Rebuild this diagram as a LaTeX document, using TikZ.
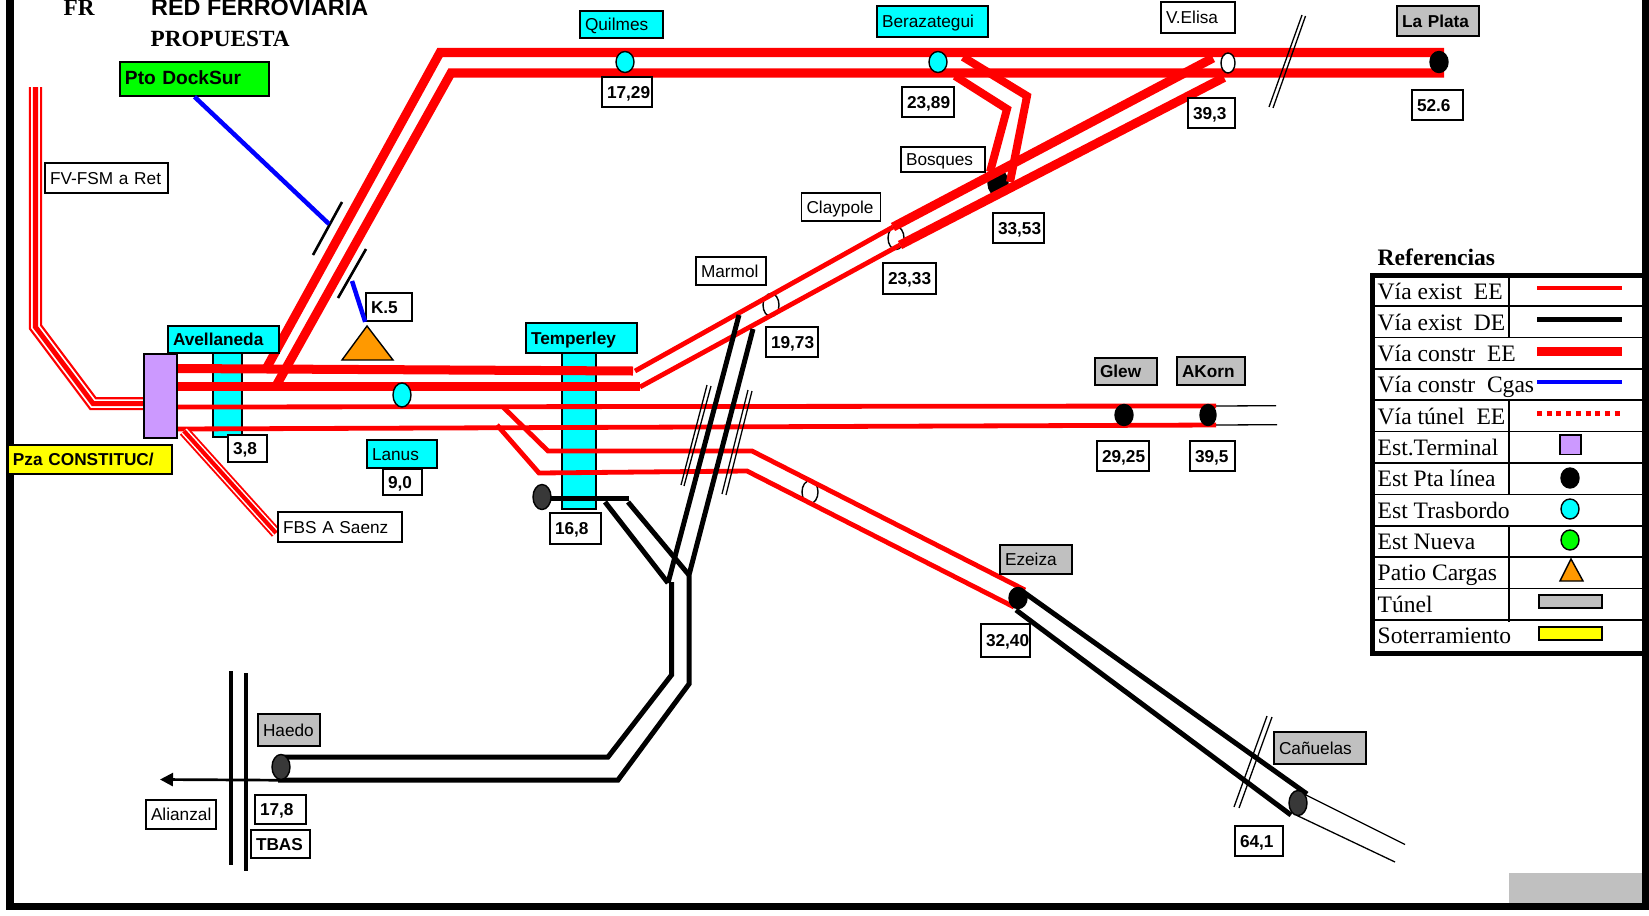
\documentclass[tikz,border=0pt]{standalone}
\usepackage{fontspec}
\setmainfont{Liberation Sans}
\newfontfamily\legfont{Liberation Serif}
\usetikzlibrary{arrows.meta,shapes.geometric}
\definecolor{estcian}{RGB}{0,255,255}
\definecolor{estverde}{RGB}{0,255,0}
\definecolor{estamar}{RGB}{255,255,0}
\definecolor{estlila}{RGB}{204,153,255}
\definecolor{estnar}{RGB}{255,153,0}
\definecolor{estgris}{RGB}{192,192,192}
\tikzset{
  lbl/.style={draw=black,line width=0.016cm,fill=white,inner xsep=0.05cm,inner ysep=0pt,align=left,
    text height=0.155cm,text depth=0.03cm,font=\fontsize{4.9}{5.5}\selectfont},
  km/.style={lbl,font=\fontsize{4.9}{5.5}\selectfont\bfseries},
  wh/.code 2 args={\pgfmathsetmacro\boxtw{(#1-10)*0.01}\tikzset{text width=\boxtw cm,minimum height=#2*0.01cm}},
  viaconstr/.style={draw=red,line width=0.09cm},
  viaexist/.style={draw=red,line width=0.048cm},
  viade/.style={draw=black,line width=0.05cm},
  viafina/.style={draw=black,line width=0.013cm},
  corte/.style={draw=black,line width=0.013cm},
  cgas/.style={draw=blue,line width=0.045cm},
  est/.style={ellipse,draw=black,line width=0.014cm,inner sep=0pt,minimum width=0.18cm,minimum height=0.21cm},
  estpta/.style={est,fill=black},
  estosc/.style={est,fill=black!78,minimum height=0.25cm},
  estblanca/.style={est,fill=white,minimum width=0.16cm,minimum height=0.23cm},
  esttras/.style={est,fill=estcian},
  leg/.style={anchor=base west,inner sep=0pt,font=\legfont\fontsize{6.7}{7}\selectfont},
  legline/.style={draw=black,line width=0.017cm},
}
\newcommand{\ramal}[2]{
  \draw[draw=red,line width=#1*0.13cm] #2;
  \draw[draw=white,line width=#1*0.085cm] #2;
  \draw[draw=red,line width=#1*0.05cm] #2;
}
\begin{document}
\begin{tikzpicture}[x=0.01cm,y=-0.01cm]
  \useasboundingbox (0,0) rectangle (1649,915);
  \fill[estgris] (1509,873) rectangle (1642,903);
  \fill (6,-1) rectangle (13.5,903);
  \fill (1642,-1) rectangle (1650,910);
  \fill (6,902.5) rectangle (1650,910);
  \node[anchor=base west,inner sep=0pt,font=\legfont\fontsize{6.6}{7}\selectfont\bfseries] (fr) at (63,15) {FR};
  \node[anchor=base west,inner sep=0pt,font=\fontsize{6.65}{7}\selectfont\bfseries] (red) at (150.5,15) {RED FERROVIARIA};
  \node[anchor=base west,inner sep=0pt,font=\legfont\fontsize{6.6}{7}\selectfont\bfseries] (prop) at (150,47) {PROPUESTA};

  \foreach \n/\x/\y in {ta/266/369,tb/276/386,tc/440/52.5,td/451/73,te/1444/52.5,tf/1444/73,
    aa/177/368.5,ab/633/371,ac/177/386,ad/640/386,ae/177/407,af/1216/406,ag/177/429,ah/1216/425,
    ai/1276/405.7,aj/1277/424.7,
    ca/635/371,cb/893/227,cc/640/387,cd/900/245,ce/1213/58,cf/1224/77.5,
    ba/963/57,bb/1027/96,bc/1010/182,bd/955/76,be/1007/109,bf/990/172,
    ea/503/407,eb/548/451,ec/752/451,ed/1025/590,ee/497/425,ef/539/473,eg/747/471,eh/1014/607,
    na/1022/591,nb/1307/794,nc/1016/610,nd/1291/815,ne/1304/794,nf/1405/844.5,ng/1296/815,nh/1395/862,
    ma/739/315,mb/668/583,mb2/671.5/582,mc/671.5/675,md/608/757,me/278/757,
    mf/753/329,mg/689/575,mh/689/684,mi/618/780,mj/278/780,
    ta1/550/498.5,ta2/629/498.5,ta3/605/502,ta4/628/502,
    dk/329/224,kb/352/281,arrowend/160/779.5}
    \coordinate (\n) at (\x,\y);

  \fill[estcian,draw=black,line width=0.014cm] (213,353) rectangle (242,437);
  \fill[estcian,draw=black,line width=0.014cm] (562,353) rectangle (596,509);
  \node[estpta,minimum width=0.2cm,minimum height=0.26cm] (bosques) at (998,183) {};
  \node[estblanca] (claypole) at (896,238) {};
  \node[estblanca] (marmol) at (771,305) {};
  \node[estblanca] (ezemid) at (810,492) {};

  \draw[viaconstr] (ta) -- (tc) -- (te);
  \draw[viaconstr] (tb) -- (td) -- (tf);
  \draw[viaconstr] (aa) -- (ab);
  \draw[viaconstr] (ac) -- (ad);
  \draw[viaexist] (ae) -- (af);
  \draw[viaexist] (ag) -- (ah);
  \draw[viafina] (af) -- (ai);
  \draw[viafina] (ah) -- (aj);
  \draw[viaexist] (ca) -- (cb);
  \draw[viaexist] (cc) -- (cd);
  \draw[viaconstr] (cb) -- (ce);
  \draw[viaconstr] (cd) -- (cf);
  \draw[viaconstr,line width=0.08cm] (ba) -- (bb) -- (bc);
  \draw[viaconstr,line width=0.08cm] (bd) -- (be) -- (bf);
  \draw[viaexist] (ea) -- (eb) -- (ec) -- (ed);
  \draw[viaexist] (ee) -- (ef) -- (eg) -- (eh);
  \ramal{1}{(35.5,87) -- (35.5,327) -- (93,403.5) -- (144,403.5)}
  \ramal{0.85}{(184,431) -- (276,533)}

  \draw[viade] (na) -- (nb);
  \draw[viade] (nc) -- (nd);
  \draw[viafina] (ne) -- (nf);
  \draw[viafina] (ng) -- (nh);
  \draw[viade] (ma) -- (mb);
  \draw[viade] (mb2) -- (mc) -- (md) -- (me);
  \draw[viade] (mf) -- (mg) -- (mh) -- (mi) -- (mj);
  \draw[viade] (ta1) -- (ta2);
  \draw[viade] (ta3) -- (mb);
  \draw[viade] (ta4) -- (mg);

  \foreach \xa/\ya/\xb/\yb in {1302/15/1269/107,1305.5/16/1273/108,707/385/681/485,711/386/684/486,
    748/390/722/494,752/391/726/495,1267/716/1234/807,1272/717/1239/808}
    \draw[corte] (\xa,\ya) -- (\xb,\yb);
  \draw[line width=0.026cm] (342,202) -- (313,255);
  \draw[line width=0.026cm] (366,249) -- (338,298);
  \draw[line width=0.032cm] (231,671) -- (231,865);
  \draw[line width=0.032cm] (246,673) -- (246,871);

  \node[esttras] (quilmesest) at (625,62) {};
  \node[esttras] (beraest) at (938,62) {};
  \node[estblanca,minimum width=0.14cm,minimum height=0.2cm] (elisaest) at (1228,63) {};
  \node[estpta] (plataest) at (1439,62) {};
  \node[esttras,minimum height=0.24cm] (lanusest) at (402,395) {};
  \node[estpta] (glewest) at (1124,415) {};
  \node[estpta,minimum width=0.16cm] (akornest) at (1208,415) {};
  \node[estosc] (tempest) at (542,497) {};
  \node[estpta] (ezeizaest) at (1018,598) {};
  \node[estosc] (canuest) at (1298,803) {};
  \node[estosc] (haedoest) at (281,767) {};
  \fill[estlila,draw=black,line width=0.016cm] (144,354) rectangle (177,438);
  \fill[estnar,draw=black,line width=0.014cm] (367,326) -- (342,360) -- (393,360) -- cycle;

  \node[lbl,wh={149}{34},fill=estverde,text height=0.14cm,font=\fontsize{5.45}{6}\selectfont\bfseries] (pto) at (194.5,79) {Pto DockSur};
  \node[lbl,wh={123}{30}] (fvfsm) at (106.5,178) {FV-FSM a Ret};
  \node[km,wh={111}{27},fill=estcian] (avellaneda) at (223.5,339.5) {Avellaneda};
  \node[km,wh={164}{29},fill=estamar] (pza) at (90,459.5) {Pza CONSTITUC/};
  \node[km,wh={39}{27}] (km38) at (247.5,448.5) {3,8};
  \node[km,wh={46}{28}] (k5) at (389,307) {K.5};
  \node[lbl,wh={70}{28},fill=estcian] (lanus) at (402,454) {Lanus};
  \node[km,wh={39}{26}] (km90) at (402.5,482) {9,0};
  \node[lbl,wh={124}{30}] (fbs) at (340,527) {FBS A Saenz};
  \node[km,wh={111}{30},fill=estcian] (temperley) at (581.5,338) {Temperley};
  \node[km,wh={51}{31}] (km168) at (575.5,528.5) {16,8};
  \node[lbl,wh={83}{27},fill=estcian] (quilmes) at (621.5,24.5) {Quilmes};
  \node[km,wh={50}{30}] (km1729) at (627,92) {17,29};
  \node[lbl,wh={111}{31},fill=estcian] (berazategui) at (932.5,21.5) {Berazategui};
  \node[km,wh={52}{30}] (km2389) at (928,102) {23,89};
  \node[lbl,wh={74}{31}] (velisa) at (1198,17.5) {V.Elisa};
  \node[km,wh={47}{30}] (km393) at (1211.5,113) {39,3};
  \node[km,wh={82}{30},fill=estgris] (laplata) at (1438,21) {La Plata};
  \node[km,wh={51}{30}] (km526) at (1437.5,105) {52.6};
  \node[lbl,wh={84}{25}] (bosq) at (943,159.5) {Bosques};
  \node[km,wh={51}{30}] (km3353) at (1018.5,228) {33,53};
  \node[lbl,wh={79}{28}] (clay) at (841,207) {Claypole};
  \node[km,wh={53}{31}] (km2333) at (909.5,278.5) {23,33};
  \node[lbl,wh={70}{28}] (marm) at (731,271) {Marmol};
  \node[km,wh={52}{30}] (km1973) at (792,342) {19,73};
  \node[km,wh={62}{27},fill=estgris] (glew) at (1126,371.5) {Glew};
  \node[km,wh={68}{28},fill=estgris] (akorn) at (1211,371) {AKorn};
  \node[km,wh={52}{30}] (km2925) at (1123,456) {29,25};
  \node[km,wh={45}{30}] (km395) at (1212.5,456) {39,5};
  \node[lbl,wh={72}{29},fill=estgris] (ezeiza) at (1036,559.5) {Ezeiza};
  \node[km,wh={49}{33}] (km3240) at (1005.5,640.5) {32,40};
  \node[lbl,wh={92}{32},fill=estgris] (canuelas) at (1320,748) {Cañuelas};
  \node[km,wh={48}{30}] (km641) at (1259,841) {64,1};
  \node[lbl,wh={62}{32},fill=estgris] (haedo) at (289,730) {Haedo};
  \node[km,wh={51}{29}] (km178) at (280.5,809.5) {17,8};
  \node[km,wh={59}{28}] (tbas) at (280.5,844) {TBAS};
  \node[lbl,wh={70}{29}] (alianzal) at (181,814.5) {Alianzal};

  \draw[cgas] (pto.south) -- (dk);
  \draw[cgas] (kb) -- (k5.south west);
  \draw[line width=0.027cm,-{Triangle[length=0.13cm,width=0.13cm]}] (haedoest.south) -- (arrowend);

  \node[anchor=base west,inner sep=0pt,font=\legfont\fontsize{6.7}{7}\selectfont\bfseries] (refs) at (1377,265) {Referencias};
  \foreach \t [count=\i from 0] in {Vía exist\ \ EE,Vía exist\ \ DE,Vía constr\ \ EE,Vía constr\ \ Cgas,Vía túnel\ \ EE,
    Est.Terminal,Est Pta línea,Est Trasbordo,Est Nueva,Patio Cargas,Túnel,Soterramiento}
    \node[leg] (leg\i) at (1377,{299+31.3*\i}) {\t};
  \foreach \y in {306,337.4,368.8,400.2,431.6,463,494.4,525.8,557.2,588.6,620}
    \draw[legline] (1375,\y) -- (1642,\y);
  \foreach \ya/\yb in {276/337.4,400.2/494.4,525.8/622}
    \draw[legline] (1509,\ya) -- (1509,\yb);
  \draw[line width=0.05cm] (1372.5,273) -- (1372.5,656);
  \draw[line width=0.05cm] (1370,275.5) -- (1642,275.5);
  \draw[line width=0.05cm] (1370,653.5) -- (1642,653.5);
  \draw[viaexist] (1537,288) -- (1622,288);
  \draw[viade] (1537,319) -- (1622,319);
  \draw[viaconstr] (1537,351) -- (1622,351);
  \draw[cgas] (1537,382) -- (1622,382);
  \draw[draw=red,line width=0.05cm,dash pattern=on 0.05cm off 0.047cm] (1537,413) -- (1622,413);
  \fill[estlila,draw=black,line width=0.016cm] (1560,435) rectangle (1581,454.5);
  \node[estpta,minimum height=0.2cm] (legpta) at (1570,478) {};
  \node[esttras,minimum height=0.2cm] (legtras) at (1570,509) {};
  \node[est,fill=estverde,minimum height=0.2cm] (legnueva) at (1570,540) {};
  \fill[estnar,draw=black,line width=0.014cm] (1571,559) -- (1560,581) -- (1583,581) -- cycle;
  \fill[estgris,draw=black,line width=0.016cm] (1539,595) rectangle (1602,608);
  \fill[estamar,draw=black,line width=0.016cm] (1539,627) rectangle (1602,640);
\end{tikzpicture}
\end{document}
